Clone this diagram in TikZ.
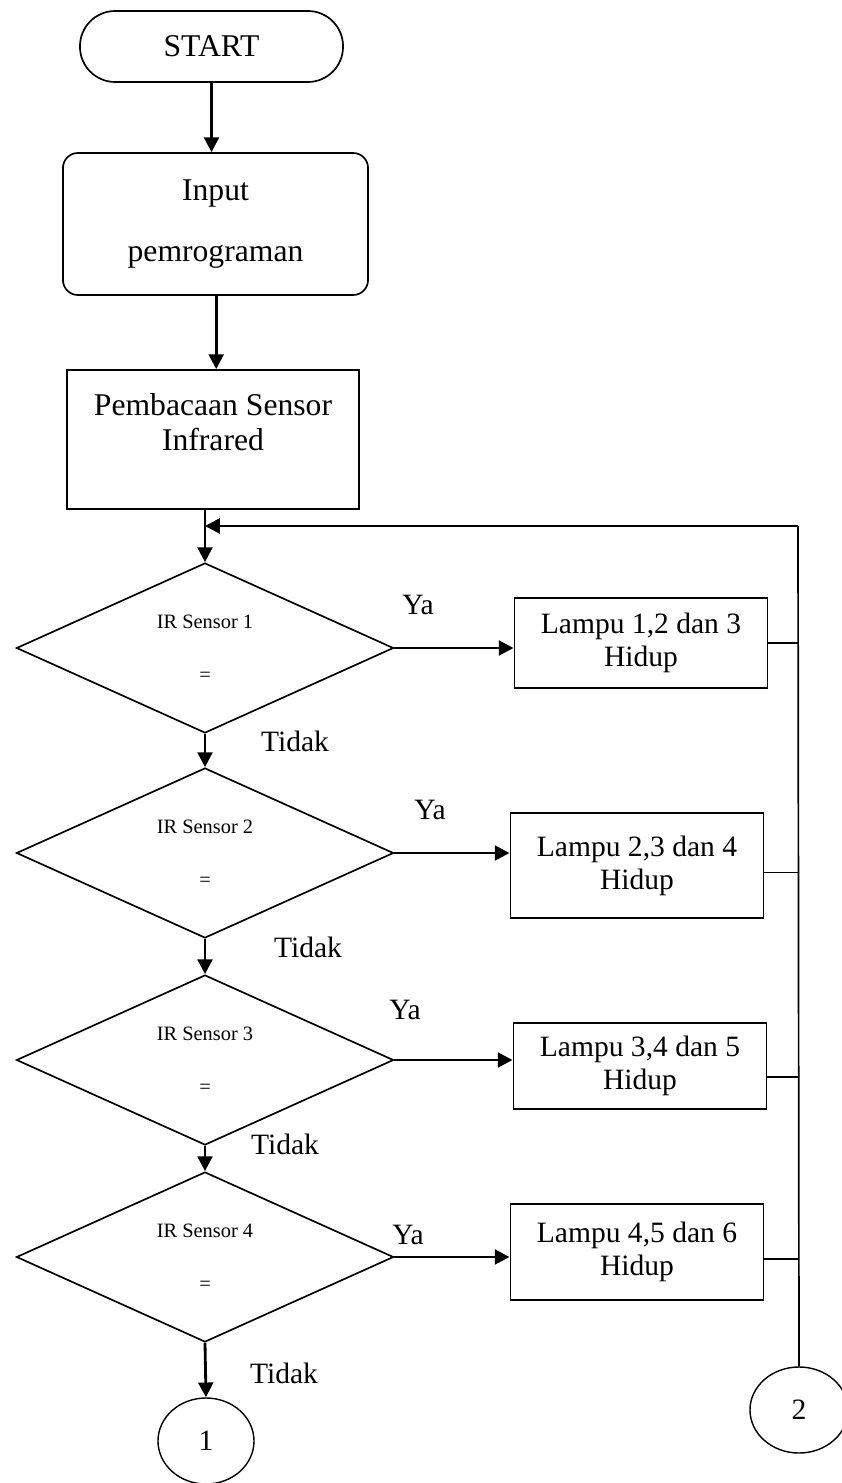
\documentclass[tikz,border=0pt]{standalone}
\usepackage{fontspec}
\setmainfont{Liberation Serif}
\usetikzlibrary{positioning,calc,shapes,arrows.meta}
\tikzset{
    % Terminal (START)
    terminal/.style={draw, rectangle, rounded corners=0.88cm, align=center,
                     minimum width=6.575cm, minimum height=1.775cm,
                     line width=1.2pt, font=\fontsize{22.5}{26}\selectfont},
    % Input (kotak sudut bulat)
    inputbox/.style={draw, rectangle, rounded corners=0.375cm, align=center,
                     minimum width=7.625cm, minimum height=3.55cm,
                     line width=1.2pt, font=\fontsize{22.5}{26}\selectfont},
    % Proses
    process/.style={draw, rectangle, align=center,
                    minimum width=7.3cm, minimum height=3.475cm,
                    line width=1.2pt, font=\fontsize{22.5}{25}\selectfont},
    % Keputusan (diamond)
    decision/.style={draw, diamond, aspect=2.2, align=center,
                     minimum width=9.425cm, minimum height=4.25cm,
                     line width=1.2pt, font=\fontsize{14.5}{17}\selectfont},
    % Lampu
    lampbox/.style={draw, rectangle, align=center, minimum width=6.33cm,
                    line width=1.2pt, font=\fontsize{21}{23.5}\selectfont},
    % Konektor
    connector/.style={draw, ellipse, minimum width=2.4cm, minimum height=2.15cm,
                      line width=1pt, font=\fontsize{21}{24}\selectfont},
    answer/.style={font=\fontsize{21}{24}\selectfont, inner sep=0pt},
    flow/.style={line width=2pt, -{Triangle[length=10.5pt, width=10.5pt]}},
    link/.style={line width=1.2pt}
}

\begin{document}
\begin{tikzpicture}[x=0.025cm, y=-0.025cm]
    \useasboundingbox (0,0) rectangle (841,1483);

    % Start, input, pembacaan
    \node[terminal] (start) at (211.5,46.5) {START};
    \node[inputbox] (input) at (215.5,224) {Input\\[18pt]pemrograman};
    \node[process] (baca) at (213,439.5) {Pembacaan Sensor\\Infrared\\~};

    % Keputusan
    \node[decision] (d1) at (205,648) {IR Sensor 1\\[20.5pt]=};
    \node[decision] (d2) at (205,853) {IR Sensor 2\\[20.5pt]=};
    \node[decision] (d3) at (205,1060) {IR Sensor 3\\[20.5pt]=};
    \node[decision] (d4) at (205,1257) {IR Sensor 4\\[20.5pt]=};

    % Lampu
    \node[lampbox, minimum height=2.25cm] (b1) at (641,643) {Lampu 1,2 dan 3\\Hidup};
    \node[lampbox, minimum height=2.625cm] (b2) at (637,865.5) {Lampu 2,3 dan 4\\Hidup};
    \node[lampbox, minimum height=2.15cm] (b3) at (640,1066) {Lampu 3,4 dan 5\\Hidup};
    \node[lampbox, minimum height=2.4cm] (b4) at (637,1252) {Lampu 4,5 dan 6\\Hidup};

    % Konektor
    \node[connector] (c1) at (206,1441) {1};
    \node[connector, minimum width=2.45cm] (c2) at (799,1410) {2};
    \coordinate (loop) at (798,526);

    % Label Ya / Tidak
    \node[answer] (ya1) at (418,605) {Ya};
    \node[answer] (ya2) at (430,810) {Ya};
    \node[answer] (ya3) at (405,1010) {Ya};
    \node[answer] (ya4) at (408,1235) {Ya};
    \node[answer] (no1) at (295,741) {Tidak};
    \node[answer] (no2) at (308,947) {Tidak};
    \node[answer] (no3) at (285,1144) {Tidak};
    \node[answer] (no4) at (284,1373) {Tidak};

    % Alur utama
    \draw[flow] (start.south) -- (start.south |- input.north);
    \draw[flow] ([xshift=0.5pt]input.south) -- ([xshift=0.5pt]input.south |- baca.north);
    \draw[flow] (d1.north |- baca.south) -- (d1.north);
    \draw[flow] (d1.south) -- (d2.north);
    \draw[flow] (d2.south) -- (d3.north);
    \draw[flow] (d3.south) -- (d4.north);
    \draw[flow] (d4.south) -- (c1.north);

    % Cabang Ya
    \draw[flow] (d1.east) -- (d1.east -| b1.west);
    \draw[flow] (d2.east) -- (d2.east -| b2.west);
    \draw[flow] (d3.east) -- (d3.east -| b3.west);
    \draw[flow] (d4.east) -- (d4.east -| b4.west);

    % Kembali ke awal
    \draw[link] (b1.east) -- (b1.east -| loop);
    \draw[link] ([yshift=-5pt]b2.east) -- ([yshift=-5pt]b2.east -| loop);
    \draw[link] ([yshift=-8pt]b3.east) -- ([yshift=-8pt]b3.east -| loop);
    \draw[link] ([yshift=-5pt]b4.east) -- ([yshift=-5pt]b4.east -| loop);
    \draw[link] (c2.north) -- (loop);
    \draw[flow] (loop) -- (loop -| d1.north);
\end{tikzpicture}
\end{document}
